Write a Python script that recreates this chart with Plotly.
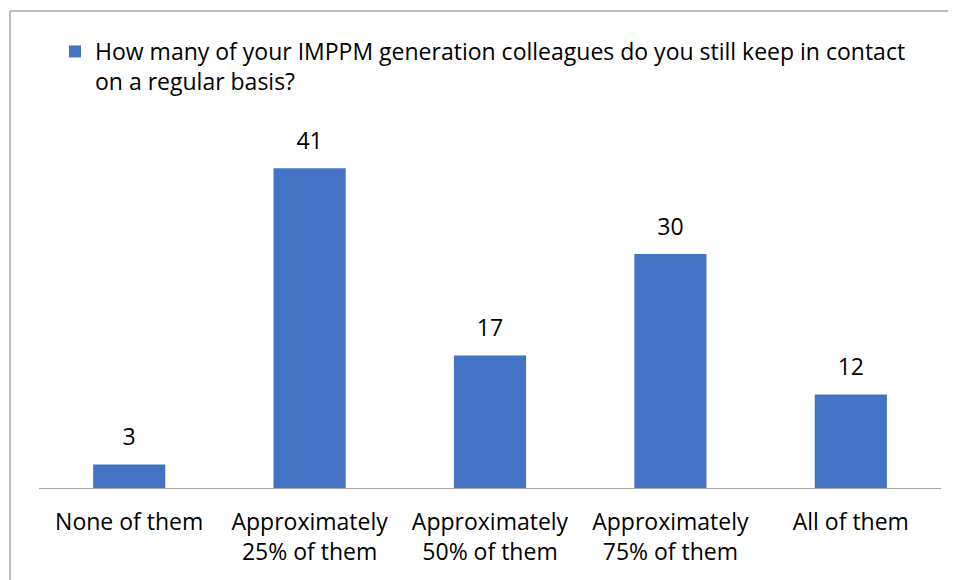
import plotly.graph_objects as go

categories = ["None of them", "Approximately<br>25% of them", "Approximately<br>50% of them",
              "Approximately<br>75% of them", "All of them"]
values = [3, 41, 17, 30, 12]
series_name = "How many of your IMPPM generation colleagues do you still keep in contact<br>on a regular basis?"

FONT = "'Open Sans', sans-serif"
FS = 23

# page body has an 8px margin: shrink figure so it ends at the window edge
W, H = 948, 572
L, R, B, T = 31, 15, 92, 90
PW, PH = W - L - R, H - T - B

fig = go.Figure()
fig.add_trace(go.Bar(
    x=categories, y=values, name=series_name,
    marker=dict(color="#4472C4", line=dict(width=0)),
    showlegend=True, hoverinfo="x+y",
))
fig.add_trace(go.Scatter(
    x=categories, y=values, mode="markers+text",
    text=[str(v) for v in values], textposition="top center",
    marker=dict(size=20, color="rgba(0,0,0,0)"),
    textfont=dict(family=FONT, size=FS, color="#000000"),
    showlegend=False, hoverinfo="skip", cliponaxis=False,
))

fig.update_layout(
    width=W, height=H,
    margin=dict(l=L, r=R, t=T, b=B, pad=0),
    paper_bgcolor="white", plot_bgcolor="white",
    bargap=0.6,
    font=dict(family=FONT, size=FS, color="#000000"),
    showlegend=True,
    legend=dict(x=(55 - 39) / PW, y=(488 - 30) / PH, xanchor="left", yanchor="top",
                font=dict(family=FONT, size=FS, color="#000000"),
                valign="top", bgcolor="rgba(0,0,0,0)", borderwidth=0),
    xaxis=dict(showline=True, linecolor="#A6A6A6", linewidth=1, ticks="",
               showgrid=False, zeroline=False, fixedrange=True,
               ticklabelstandoff=13,
               tickfont=dict(family=FONT, size=FS, color="#000000")),
    yaxis=dict(range=[0, 50], visible=False, showgrid=False, zeroline=False),
    shapes=[
        dict(type="line", xref="paper", yref="paper",
             x0=-29 / PW, x1=1.1, y0=(488 - 11) / PH, y1=(488 - 11) / PH,
             line=dict(color="#A6A6A6", width=1.5)),
        dict(type="line", xref="paper", yref="paper",
             x0=-29 / PW, x1=-29 / PW, y0=(488 - 11) / PH, y1=-0.3,
             line=dict(color="#A6A6A6", width=1.5)),
    ],
)

fig.write_html("out.html")
